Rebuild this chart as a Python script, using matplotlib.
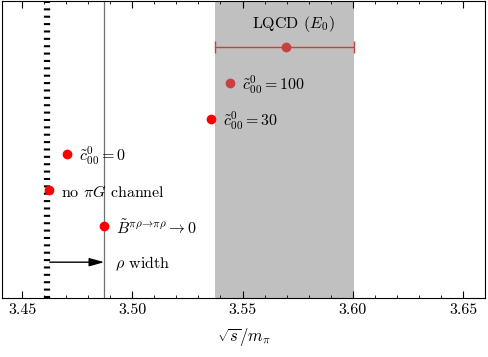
import matplotlib
matplotlib.use('Agg')
import matplotlib.pyplot as plt
from matplotlib.ticker import MultipleLocator

plt.rcParams['font.family'] = 'serif'
plt.rcParams['font.serif'] = ['cmr10']
plt.rcParams['mathtext.fontset'] = 'cm'
plt.rcParams['axes.formatter.use_mathtext'] = True

# positions in sqrt(s)/m_pi
labels = [r'$\tilde{c}^0_{00}=100$', r'$\tilde{c}^0_{00}=30$', r'$\tilde{c}^0_{00}=0$',
          r'no $\pi G$ channel', r'$\tilde{B}^{\pi\rho\!\rightarrow\!\pi\rho}\rightarrow 0$']
x_vals = [3.5441, 3.5355, 3.4705, 3.4623, 3.4873]
y_rows = [6, 5, 4, 3, 2]
colors = ['#c84040', '#ff0000', '#ff0000', '#ff0000', '#ff0000']

lqcd_x = 3.5695
lqcd_lo = 3.5373
lqcd_hi = 3.6005
lqcd_row = 7

threshold = 3.4614   # dashed line
rho_line = 3.4873    # grey line
arrow_row = 1

fig, ax = plt.subplots(figsize=(4.88, 3.57), dpi=100)
fig.subplots_adjust(left=0.004, right=0.994, top=0.998, bottom=0.165)

# band
ax.axvspan(lqcd_lo, lqcd_hi, color='#c0c0c0', lw=0, zorder=0)
ax.axvline(rho_line, color='#707070', lw=0.9, zorder=1)
ax.axvline(threshold, color='black', lw=4.5, linestyle=(0, (0.33, 0.85)), zorder=1)

# LQCD point
ax.errorbar([lqcd_x], [lqcd_row], xerr=[[lqcd_x - lqcd_lo], [lqcd_hi - lqcd_x]],
            fmt='o', color='#c84040', ms=6, lw=1, capsize=4, capthick=1, zorder=3)
ax.text(lqcd_x + 0.0035, lqcd_row + 0.62, r'LQCD ($E_0$)', ha='center', va='center', fontsize=11.5)

for x, y, c, lab in zip(x_vals, y_rows, colors, labels):
    ax.plot(x, y, 'o', color=c, ms=6, zorder=3)
    ax.text(x + 0.0055, y - 0.05, lab, ha='left', va='center', fontsize=11.5)

ax.annotate('', xy=(rho_line, arrow_row), xytext=(threshold + 0.0012, arrow_row),
            arrowprops=dict(arrowstyle='-|>,head_length=0.9,head_width=0.25',
                            color='black', lw=1, shrinkA=0, shrinkB=0), zorder=4)
ax.text(rho_line + 0.005, arrow_row - 0.05, r'$\rho$ width', ha='left', va='center', fontsize=11.5)

ax.set_xlim(3.4409, 3.66)
ax.set_ylim(0, 8.28)
ax.set_yticks([])
ax.xaxis.set_major_locator(MultipleLocator(0.05))
ax.xaxis.set_minor_locator(MultipleLocator(0.01))
ax.xaxis.set_major_formatter(matplotlib.ticker.FormatStrFormatter('%.2f'))
ax.tick_params(axis='x', which='both', direction='in', top=True, labelsize=11.5)
ax.tick_params(axis='x', which='major', length=5)
ax.tick_params(axis='x', which='minor', length=2.5)
ax.set_xlabel(r'$\sqrt{s}/m_\pi$', fontsize=12, labelpad=7)

fig.savefig('out.png', dpi=100)
